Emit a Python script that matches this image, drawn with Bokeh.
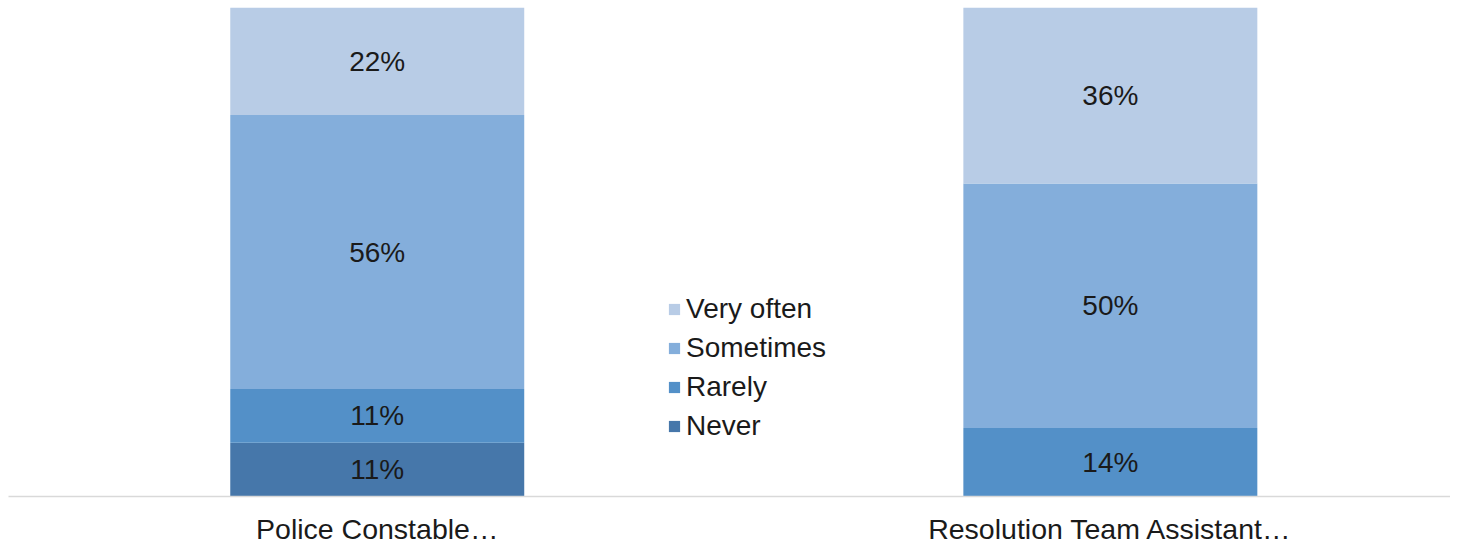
from bokeh.plotting import figure
from bokeh.models import ColumnDataSource, Range1d, FixedTicker, Legend, LegendItem
from bokeh.embed import file_html
from bokeh.resources import INLINE
from bokeh.core.properties import value

categories = ["Police Constable…", "Resolution Team Assistant…"]
series = ["Never", "Rarely", "Sometimes", "Very often"]
never = [11, 0]
rarely = [11, 14]
sometimes = [56, 50]
very_often = [22, 36]
colors = ["#4677AA", "#5390C8", "#84AEDB", "#B8CCE6"]

xs = [0, 1]
values = [never, rarely, sometimes, very_often]

p = figure(width=1450, height=547, output_backend="svg", toolbar_location=None,
           x_range=Range1d(-0.503, 1.464), y_range=Range1d(0, 100),
           min_border_left=8, min_border_right=0, min_border_top=7, min_border_bottom=46)
p.outline_line_color = None
p.xgrid.visible = False
p.ygrid.visible = False
p.yaxis.visible = False

renderers = []
lab_x, lab_y, lab_t = [], [], []
bottoms = [0, 0]
for name, vals, col in zip(series, values, colors):
    tops = [b + v for b, v in zip(bottoms, vals)]
    src = ColumnDataSource(dict(x=xs, bottom=bottoms, top=tops))
    r = p.vbar(x="x", bottom="bottom", top="top", width=0.401, source=src,
               fill_color=col, line_color=None)
    renderers.append((name, r))
    for x, b, v in zip(xs, bottoms, vals):
        if v > 0:
            lab_x.append(x)
            lab_y.append(b + v / 2)
            lab_t.append(f"{v}%")
    bottoms = tops

lsrc = ColumnDataSource(dict(x=lab_x, y=lab_y, t=lab_t))
p.text(x="x", y="y", text="t", source=lsrc, text_align="center", text_baseline="middle",
       text_font=value("Liberation Sans"), text_font_size="28px", text_color="#1a1a1a")

p.xaxis.ticker = FixedTicker(ticks=xs)
p.xaxis.major_label_overrides = {0: categories[0], 1: categories[1]}
p.xaxis.major_tick_line_color = None
p.xaxis.minor_tick_line_color = None
p.xaxis.axis_line_color = "#D9D9D9"
p.xaxis.axis_line_width = 1.5
p.xaxis.major_label_text_font = "Liberation Sans"
p.xaxis.major_label_text_font_size = "28.5px"
p.xaxis.major_label_text_color = "#1a1a1a"
p.xaxis.major_label_standoff = 10

items = [LegendItem(label=name, renderers=[r]) for name, r in reversed(renderers)]
legend = Legend(items=items, location=(659, 54), orientation="vertical",
                background_fill_alpha=0, border_line_color=None,
                label_text_font="Liberation Sans", label_text_font_size="28px",
                label_text_color="#1a1a1a", glyph_width=14, glyph_height=14,
                spacing=7, label_standoff=5, padding=0, margin=0)
p.add_layout(legend, "center")

open("out.html", "w").write(file_html(p, INLINE))
